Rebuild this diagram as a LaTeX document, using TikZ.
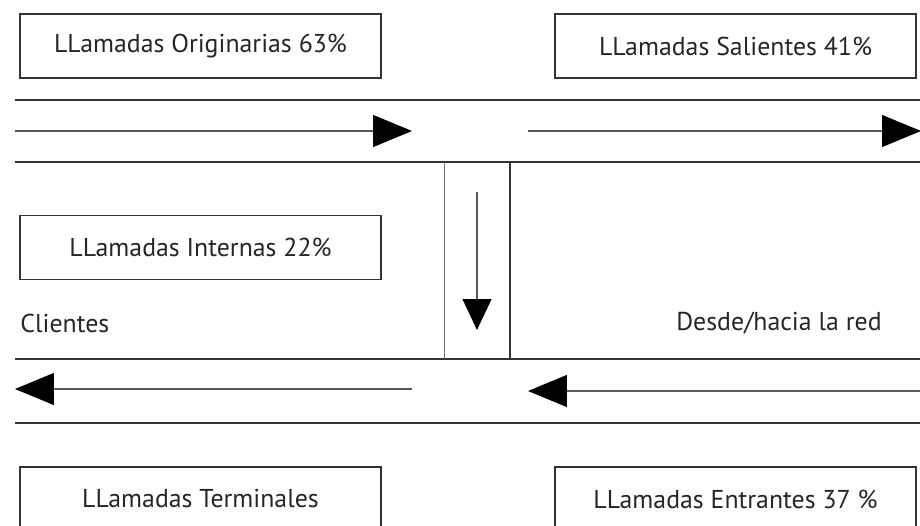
\documentclass[tikz,border=0pt]{standalone}
\usepackage{fontspec}
\setmainfont{PT Sans}
\usetikzlibrary{arrows.meta}

\begin{document}
\begin{tikzpicture}[x=0.02cm,y=-0.02cm,
  caja/.style={draw=black!80,line width=1pt,minimum width=7.22cm,minimum height=1.28cm,inner sep=0pt,text=black!85,font=\fontsize{14.7}{17}\selectfont},
  rotulo/.style={inner sep=0pt,text=black!85,font=\fontsize{14.7}{17}\selectfont},
  canal/.style={draw=black!80,line width=1.1pt},
  flecha/.style={black!65,line width=0.6pt,-{Triangle[length=0.78cm,width=0.64cm,color=black]}}]
\path[use as bounding box,clip] (0,0) rectangle (920,526);
% canales
\draw[canal] (15,100)--(920,100); \draw[canal] (15,162)--(920,162);
\draw[canal] (15,359)--(920,359); \draw[canal] (15,423)--(920,423);
\draw[canal,black!55] (444.5,162)--(444.5,359); \draw[canal] (510,162)--(510,359);
% flechas
\coordinate (A1) at (15,131); \coordinate (B1) at (412,131);
\coordinate (A2) at (528,131); \coordinate (B2) at (921,131);
\coordinate (A3) at (412,389); \coordinate (B3) at (15,389);
\coordinate (A4) at (920,391); \coordinate (B4) at (528,391);
\coordinate (A5) at (477,192); \coordinate (B5) at (477,330);
\foreach \a/\b in {A1/B1,A2/B2,A3/B3,A4/B4} \draw[flecha] (\a)--(\b);
\draw[flecha,-{Triangle[length=0.62cm,width=0.58cm,color=black]}] (A5)--(B5);
% cajas
\node[caja] (orig) at (200.5,46) {LLamadas Originarias 63\%};
\node[caja] (sal) at (735.5,46) {LLamadas Salientes 41\%};
\node[caja] (int) at (200.5,247.5) {LLamadas Internas 22\%};
\node[caja] (term) at (200.5,499) {LLamadas Terminales};
\node[caja] (ent) at (735.5,499) {LLamadas Entrantes 37 \%};
\node[rotulo,anchor=west] (cli) at (20,323) {Clientes};
\node[rotulo] (red) at (779,323) {Desde/hacia la red};
\end{tikzpicture}
\end{document}
